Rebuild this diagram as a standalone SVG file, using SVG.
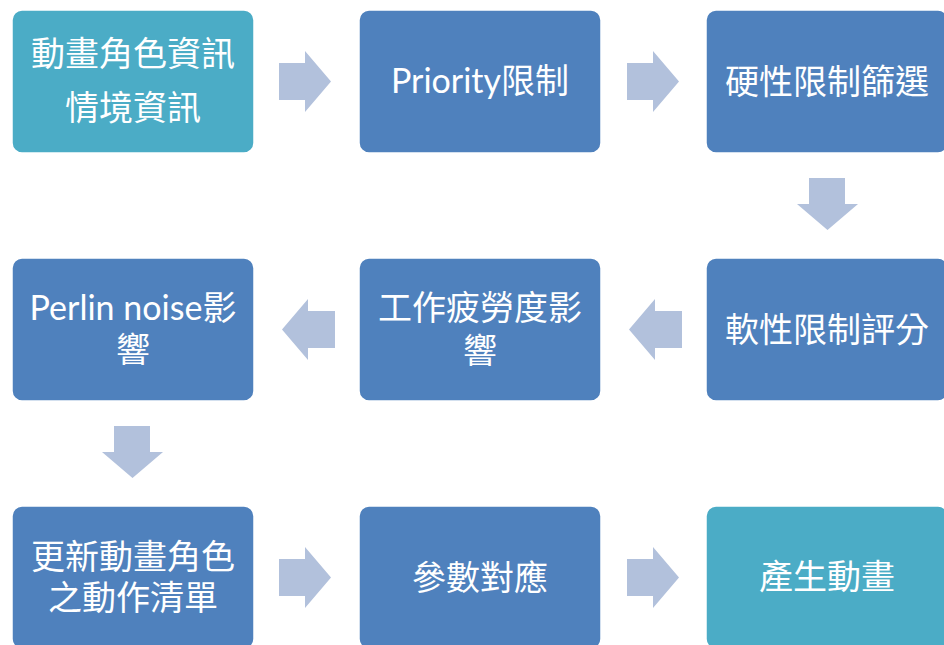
<svg xmlns="http://www.w3.org/2000/svg" width="944" height="645" viewBox="0 0 944 645">
<style>
.box{stroke:#ffffff;stroke-width:1.5}
.blue{fill:#4F81BD}
.teal{fill:#4BACC6}
.arr{fill:#B2C1DC}
text{fill:#ffffff;font-family:Lato,"Noto Sans CJK TC","Noto Sans",sans-serif;font-size:34px;text-anchor:middle}
</style>
<rect width="944" height="645" fill="#ffffff"/>
<g id="connectors">
<path class="arr" d="M279,63 H305 V51 L331,81.5 L305,112 V100 H279 Z"/>
<path class="arr" d="M627,63 H653 V51 L679,81.5 L653,112 V100 H627 Z"/>
<path class="arr" d="M809,178 H845 V204 H858 L827.5,230 L797,204 H809 Z"/>
<path class="arr" d="M682,311 H655 V299 L629,329.5 L655,360 V348 H682 Z"/>
<path class="arr" d="M335,311 H308 V299 L282,329.5 L308,360 V348 H335 Z"/>
<path class="arr" d="M114,426 H150 V452 H163 L132.5,478 L102,452 H114 Z"/>
<path class="arr" d="M279,559 H305 V547 L331,577.5 L305,608 V596 H279 Z"/>
<path class="arr" d="M627,559 H653 V547 L679,577.5 L653,608 V596 H627 Z"/>
</g>
<g id="n1"><rect class="box teal" x="12" y="10" width="242" height="143" rx="10"/><text x="133" y="66">動畫角色資訊</text><text x="133" y="120">情境資訊</text></g>
<g id="n2"><rect class="box blue" x="359" y="10" width="242" height="143" rx="10"/><text x="480" y="93" font-size="33">Priority限制</text></g>
<g id="n3"><rect class="box blue" x="706" y="10" width="242" height="143" rx="10"/><text x="827" y="94">硬性限制篩選</text></g>
<g id="n4"><rect class="box blue" x="706" y="258" width="242" height="143" rx="10"/><text x="827" y="342">軟性限制評分</text></g>
<g id="n5"><rect class="box blue" x="359" y="258" width="242" height="143" rx="10"/><text x="480" y="320">工作疲勞度影</text><text x="480" y="363">響</text></g>
<g id="n6"><rect class="box blue" x="12" y="258" width="242" height="143" rx="10"/><text x="133" y="320" font-size="33">Perlin noise影</text><text x="133" y="362">響</text></g>
<g id="n7"><rect class="box blue" x="12" y="506" width="242" height="143" rx="10"/><text x="133" y="569">更新動畫角色</text><text x="133" y="610">之動作清單</text></g>
<g id="n8"><rect class="box blue" x="359" y="506" width="242" height="143" rx="10"/><text x="480" y="590">參數對應</text></g>
<g id="n9"><rect class="box teal" x="706" y="506" width="242" height="143" rx="10"/><text x="827" y="589">產生動畫</text></g>
</svg>
